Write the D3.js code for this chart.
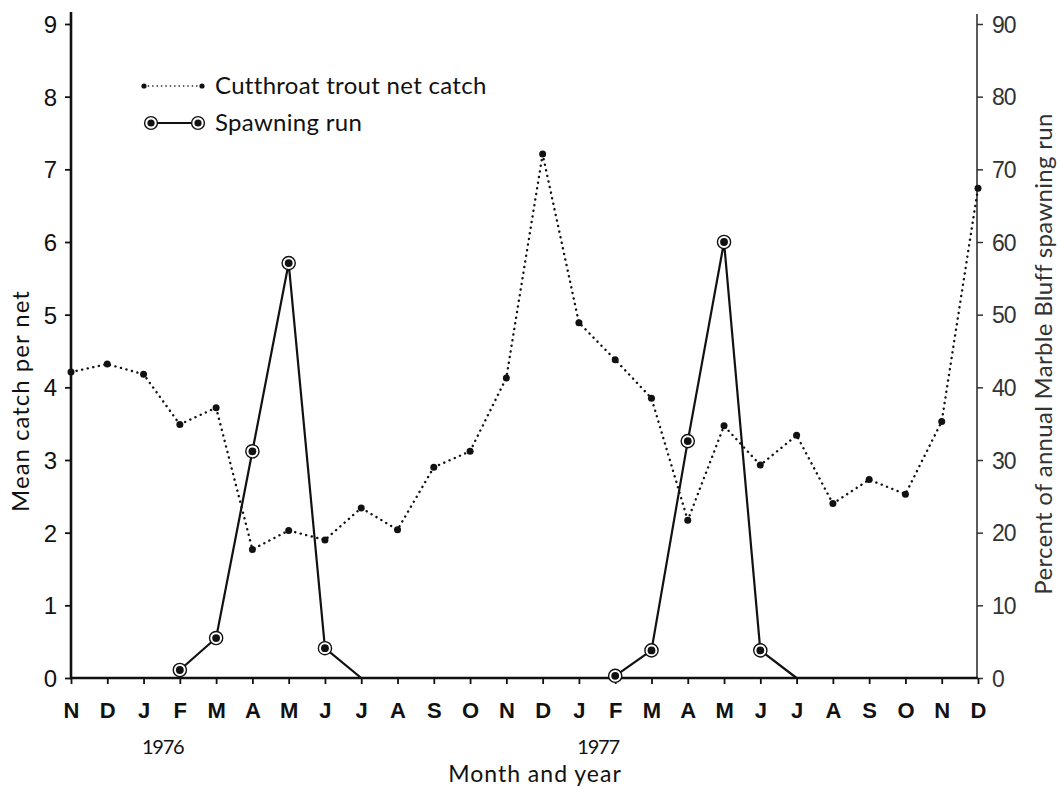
<!DOCTYPE html>
<html>
<head>
<meta charset="utf-8">
<script src="https://cdn.jsdelivr.net/npm/d3@7"></script>
<style>
  html, body { margin: 0; padding: 0; background: #fff; }
  svg { display: block; font-family: Lato, "Noto Sans", sans-serif; }
</style>
</head>
<body>
<svg id="chart" width="1057" height="787"></svg>
<script>
// ---- data ----
const months = ["N","D","J","F","M","A","M","J","J","A","S","O","N","D","J","F","M","A","M","J","J","A","S","O","N","D"];
const yearLabels = ["1976", "1977"];
const yearAfterIndex = [2, 14];          // year label sits between this month (J) and the next (F)
const catchValues = [4.21, 4.32, 4.18, 3.49, 3.72, 1.77, 2.03, 1.90, 2.34, 2.04, 2.90, 3.12, 4.13,
                     7.21, 4.89, 4.38, 3.85, 2.17, 3.47, 2.93, 3.34, 2.40, 2.73, 2.53, 3.53, 6.74];
const spawnValues = [null, null, null, 1.1, 5.5, 31.2, 57.1, 4.1, 0, null, null, null, null,
                     null, null, 0.3, 3.8, 32.6, 60.0, 3.8, 0, null, null, null, null, null];
const leftTicks = [0,1,2,3,4,5,6,7,8,9];
const rightTicks = [0,10,20,30,40,50,60,70,80,90];
const legendLabels = ["Cutthroat trout net catch", "Spawning run"];
const xTitle = "Month and year";
const yLeftTitle = "Mean catch per net";
const yRightTitle = "Percent of annual Marble Bluff spawning run";

// ---- layout ----
const svg = d3.select("#chart");
const X0 = 71, X1 = 978, Y0 = 678, Y9 = 24;
const x = d3.scaleLinear().domain([0, months.length - 1]).range([X0, X1]);
const yL = d3.scaleLinear().domain([0, 9]).range([Y0, Y9]);
const yR = d3.scaleLinear().domain([0, 90]).range([Y0, Y9]);
const ink = "#111";

// axes lines
svg.append("line").attr("x1", X0).attr("x2", X0).attr("y1", Y0 + 1).attr("y2", 12)
  .attr("stroke", ink).attr("stroke-width", 2.6);
svg.append("line").attr("x1", X1 - 1).attr("x2", X1 - 1).attr("y1", Y0 + 1).attr("y2", 14)
  .attr("stroke", "#333").attr("stroke-width", 1.6);
svg.append("line").attr("x1", X0 - 1).attr("x2", X1).attr("y1", Y0).attr("y2", Y0)
  .attr("stroke", ink).attr("stroke-width", 2.6);

// left axis
const gL = svg.append("g").attr("transform", `translate(${X0},0)`)
  .call(d3.axisLeft(yL).tickValues(leftTicks).tickSize(6).tickPadding(8).tickFormat(d3.format("d")));
gL.select(".domain").remove();
gL.selectAll(".tick line").attr("stroke", ink).attr("stroke-width", 1.8);
gL.selectAll(".tick text").attr("fill", ink).attr("font-size", 24).attr("dy", "0.36em");

// right axis
const gR = svg.append("g").attr("transform", `translate(${X1 - 1},0)`)
  .call(d3.axisRight(yR).tickValues(rightTicks).tickSize(6).tickPadding(9).tickFormat(d3.format("d")));
gR.select(".domain").remove();
gR.selectAll(".tick line").attr("stroke", "#333").attr("stroke-width", 1.5);
gR.selectAll(".tick text").attr("fill", "#333").attr("font-size", 23).attr("dy", "0.36em")
  .attr("letter-spacing", "-1");

// bottom axis
const gB = svg.append("g").attr("transform", `translate(0,${Y0})`)
  .call(d3.axisBottom(x).tickValues(d3.range(months.length)).tickSize(6).tickPadding(18)
    .tickFormat(i => months[i]));
gB.select(".domain").remove();
gB.selectAll(".tick line").attr("stroke", ink).attr("stroke-width", 1.8);
gB.selectAll(".tick text").attr("fill", ink).attr("font-size", 22).attr("font-weight", 700);

// year labels
svg.selectAll("text.year").data(yearLabels).join("text").attr("class", "year")
  .attr("x", (d, i) => (x(yearAfterIndex[i]) + x(yearAfterIndex[i] + 1)) / 2 + 1)
  .attr("y", 754).attr("text-anchor", "middle").attr("font-size", 20).attr("letter-spacing", "-1.2")
  .attr("fill", ink).text(d => d);

// titles
svg.append("text").attr("x", 535).attr("y", 782).attr("text-anchor", "middle")
  .attr("font-size", 23).attr("letter-spacing", "1").attr("fill", ink).text(xTitle);
svg.append("text").attr("transform", `translate(29,401) rotate(-90)`).attr("text-anchor", "middle")
  .attr("font-size", 24).attr("letter-spacing", "1").attr("fill", ink).text(yLeftTitle);
svg.append("text").attr("transform", `translate(1052,354) rotate(-90)`).attr("text-anchor", "middle")
  .attr("font-size", 24).attr("letter-spacing", "0.3").attr("fill", "#333").text(yRightTitle);

// catch series (dotted)
const catchLine = d3.line().x((d, i) => x(i)).y(d => yL(d));
svg.append("path").datum(catchValues).attr("d", catchLine).attr("fill", "none")
  .attr("stroke", ink).attr("stroke-width", 2.4).attr("stroke-linecap", "round")
  .attr("stroke-dasharray", "0.1 5.6");
svg.selectAll("circle.catch").data(catchValues).join("circle").attr("class", "catch")
  .attr("cx", (d, i) => x(i)).attr("cy", d => yL(d)).attr("r", 3.5).attr("fill", ink);

// spawning series (solid with ringed dots)
const spawnLine = d3.line().defined(d => d !== null).x((d, i) => x(i)).y(d => yR(d));
svg.append("path").datum(spawnValues).attr("d", spawnLine).attr("fill", "none")
  .attr("stroke", ink).attr("stroke-width", 2.2).attr("stroke-linejoin", "round");
const spawnPts = spawnValues.map((v, i) => ({ v, i })).filter(d => d.v !== null && d.v > 0);
const sg = svg.selectAll("g.spawn").data(spawnPts).join("g").attr("class", "spawn")
  .attr("transform", d => `translate(${x(d.i)},${yR(d.v)})`);
sg.append("circle").attr("r", 6.6).attr("fill", "#fff").attr("stroke", ink).attr("stroke-width", 1.4);
sg.append("circle").attr("r", 3.9).attr("fill", ink);

// legend
const lg = svg.append("g");
lg.append("line").attr("x1", 144).attr("x2", 202).attr("y1", 86).attr("y2", 86)
  .attr("stroke", ink).attr("stroke-width", 1.6).attr("stroke-linecap", "round").attr("stroke-dasharray", "0.1 4.3");
[144, 202].forEach(cx => lg.append("circle").attr("cx", cx).attr("cy", 86).attr("r", 2.6).attr("fill", ink));
lg.append("line").attr("x1", 151).attr("x2", 198).attr("y1", 123).attr("y2", 123)
  .attr("stroke", ink).attr("stroke-width", 2);
[151, 198].forEach(cx => {
  lg.append("circle").attr("cx", cx).attr("cy", 123).attr("r", 6.4).attr("fill", "#fff").attr("stroke", ink).attr("stroke-width", 1.4);
  lg.append("circle").attr("cx", cx).attr("cy", 123).attr("r", 3.6).attr("fill", ink);
});
lg.selectAll("text.leg").data(legendLabels).join("text").attr("class", "leg")
  .attr("x", 215).attr("y", (d, i) => 86 + i * 37).attr("dy", "0.35em")
  .attr("font-size", 24).attr("letter-spacing", "0.3").attr("fill", ink).text(d => d);
</script>
</body>
</html>
